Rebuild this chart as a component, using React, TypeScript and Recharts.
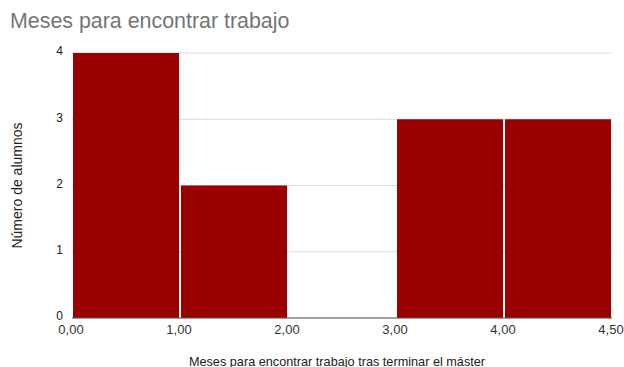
import { BarChart, Bar, XAxis, YAxis, CartesianGrid } from 'recharts'

// histogram bins (months to find a job) and number of students per bin
const bins = ['0-1', '1-2', '2-3', '3-4', '4-4,5']
const counts = [4, 2, 0, 3, 3]
// boundary labels shown under the bars
const edgeLabels = ['0,00', '1,00', '2,00', '3,00', '4,00', '4,50']
const yTicks = [0, 1, 2, 3, 4]

const data = bins.map((bin, i) => ({ bin, count: counts[i], mid: i + 0.5 }))
const edgeTicks = edgeLabels.map((_, i) => i)

const font = '"Liberation Sans", Arial, sans-serif'

export default function App() {
  return (
    <div style={{ position: 'absolute', left: 0, top: 0, width: 624, height: 367, background: '#fff' }}>
      <div
        style={{
          position: 'absolute',
          left: 10,
          top: 9,
          fontFamily: font,
          fontSize: 21.4,
          color: '#757575',
          whiteSpace: 'nowrap',
        }}
      >
        Meses para encontrar trabajo
      </div>
      <BarChart
        width={624}
        height={367}
        data={data}
        margin={{ top: 53, right: 12, left: 0, bottom: 0 }}
        barCategoryGap={1}
        style={{ fontFamily: font }}
      >
        <CartesianGrid xAxisId="num" yAxisId="y" vertical={false} stroke="#d9d9d9" />
        <XAxis
          xAxisId="num"
          type="number"
          dataKey="mid"
          domain={[0, 5]}
          ticks={edgeTicks}
          tickFormatter={(v: number) => edgeLabels[v] ?? ''}
          interval={0}
          height={49}
          tickLine={false}
          tickSize={0}
          tickMargin={7}
          axisLine={{ stroke: '#555' }}
          tick={{ fontSize: 13, fill: '#333', dx: -1 }}
          label={{
            value: 'Meses para encontrar trabajo tras terminar el máster',
            position: 'insideBottom',
            offset: 1,
            dx: -5,
            fontSize: 12.7,
            fill: '#222',
          }}
        />
        <XAxis xAxisId="cat" dataKey="bin" hide height={0} />
        <YAxis
          yAxisId="y"
          width={72}
          domain={[0, 4]}
          ticks={yTicks}
          interval={0}
          axisLine={false}
          tickLine={false}
          tickSize={0}
          tickMargin={9}
          tick={{ fontSize: 12, fill: '#222', dy: -2 }}
          label={{
            value: 'Número de alumnos',
            angle: -90,
            position: 'insideLeft',
            offset: 17,
            fontSize: 14,
            fill: '#222',
            style: { textAnchor: 'middle' },
          }}
        />
        <Bar xAxisId="cat" yAxisId="y" dataKey="count" fill="#990000" isAnimationActive={false} />
      </BarChart>
    </div>
  )
}
